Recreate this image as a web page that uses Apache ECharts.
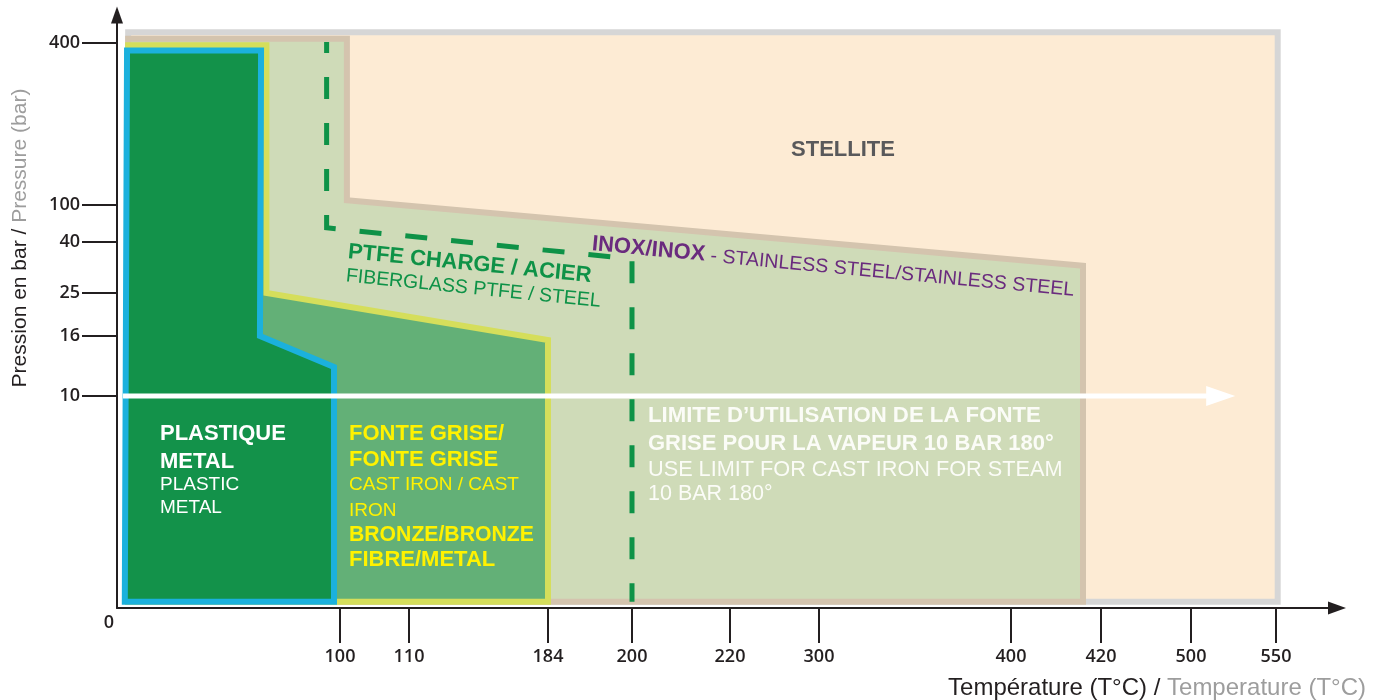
<!DOCTYPE html>
<html>
<head>
<meta charset="utf-8">
<script src="https://cdn.jsdelivr.net/npm/echarts@6/dist/echarts.min.js"></script>
<style>
  html, body { margin: 0; padding: 0; background: #ffffff; }
  #chart { width: 1383px; height: 700px; }
</style>
</head>
<body>
<div id="chart"></div>
<script>
// Tick values: temperature (°C) and pressure (bar)
const tempTicks = [0, 100, 110, 184, 200, 220, 300, 400, 420, 500, 550];
const pressTicks = [0, 10, 16, 25, 40, 100, 400];

// The axes are not linear: where each tick sits along its axis, in axis units
const tempTickStops = [0, 223, 292, 431, 515, 613, 702, 894, 984, 1074, 1159];
const pressTickStops = [0, 212, 272, 315, 366, 403, 565];
const tempAxisEnd = 1220;
const pressAxisEnd = 593;

// Material envelopes, vertices as [temperature °C, pressure bar]
const stelliteZone = [[5, 0.3], [5, 420], [551, 420], [551, 0.3]];
const inoxZone = [[5, 0.3], [5, 408], [101, 408], [101, 109], [416, 33], [416, 0.3]];
const fonteZone = [[5, 0.3], [5, 396], [67, 396], [67, 25], [184, 15.6], [184, 0.3]];
const plasticZone = [[3.5, 0.3], [4.5, 386], [64.6, 386], [64.1, 16], [97.3, 12.9], [97.3, 0.3]];

// PTFE fiberglass / steel limit (dashed) and cast-iron steam limit (arrow)
const ptfeLimit = [[94, 402], [94, 63], [200, 35], [200, 0.3]];
const steamLimit = [[2.7, 10], [526, 10]];

// Piecewise-linear mapping from a value to its position along the axis
function warp(v, ticks, stops) {
  let i = 1;
  while (i < ticks.length - 1 && v > ticks[i]) i++;
  const t0 = ticks[i - 1], t1 = ticks[i], s0 = stops[i - 1], s1 = stops[i];
  return s0 + (v - t0) * (s1 - s0) / (t1 - t0);
}
const tx = t => warp(t, tempTicks, tempTickStops);
const py = p => warp(p, pressTicks, pressTickStops);
const toAxis = pts => pts.map(([t, p]) => [tx(t), py(p)]);

const SANS = '"Liberation Sans", Arial, Helvetica, sans-serif';
const TICKFONT = '"Open Sans", "Noto Sans", sans-serif';
const INK = '#231f20';

function collectPoints(params, api) {
  const pts = [];
  for (let i = 0; i < params.dataInsideLength; i++) {
    pts.push(api.coord([api.value(0, i), api.value(1, i)]));
  }
  return pts;
}

function zoneSeries(name, pts, fill, stroke) {
  return {
    name, type: 'custom', coordinateSystem: 'cartesian2d', silent: true,
    data: toAxis(pts),
    renderItem(params, api) {
      if (params.dataIndexInside !== 0) return null;
      return {
        type: 'polygon',
        shape: { points: collectPoints(params, api) },
        style: { fill, stroke, lineWidth: 6, lineJoin: 'miter' }
      };
    }
  };
}

const ptfeSeries = {
  name: 'PTFE', type: 'custom', coordinateSystem: 'cartesian2d', silent: true,
  data: toAxis(ptfeLimit),
  renderItem(params, api) {
    if (params.dataIndexInside !== 0) return null;
    return {
      type: 'polyline',
      shape: { points: collectPoints(params, api) },
      style: { fill: null, stroke: '#0e9247', lineWidth: 5, lineDash: [22, 24], lineDashOffset: 11, lineCap: 'butt' }
    };
  }
};

const steamSeries = {
  name: 'steam', type: 'custom', coordinateSystem: 'cartesian2d', silent: true,
  data: toAxis(steamLimit),
  renderItem(params, api) {
    if (params.dataIndexInside !== 0) return null;
    const [a, b] = collectPoints(params, api);
    const head = 29, half = 10;
    return {
      type: 'group',
      children: [
        { type: 'line', shape: { x1: a[0], y1: a[1], x2: b[0] - head + 2, y2: b[1] },
          style: { stroke: '#ffffff', lineWidth: 5 } },
        { type: 'polygon', shape: { points: [[b[0], b[1]], [b[0] - head, b[1] - half], [b[0] - head, b[1] + half]] },
          style: { fill: '#ffffff' } }
      ]
    };
  }
};

function text(x, y, str, size, weight, fill, extra) {
  return Object.assign({
    type: 'text', x, y, z: 100, silent: true,
    style: {
      text: str, fontSize: size, fontWeight: weight, fontFamily: SANS, fill,
      align: 'left', verticalAlign: 'middle', textAlign: 'left', textVerticalAlign: 'middle'
    }
  }, extra || {});
}

const graphics = [
  text(843, 150, 'STELLITE', 22, 'bold', '#59595b',
    { style: { text: 'STELLITE', fontSize: 22, fontWeight: 'bold', fontFamily: SANS, fill: '#59595b',
      align: 'center', verticalAlign: 'middle', textAlign: 'center', textVerticalAlign: 'middle' } }),
  {
    type: 'text', x: 592, y: 244, rotation: -0.094, z: 100, silent: true,
    style: {
      text: '{b|INOX/INOX}{r| - STAINLESS STEEL/STAINLESS STEEL}',
      fontFamily: SANS, fontSize: 19.6, fill: '#6a2b7e', align: 'left', verticalAlign: 'middle',
      rich: {
        b: { fontFamily: SANS, fontSize: 22, fontWeight: 'bold', fill: '#6a2b7e', verticalAlign: 'bottom' },
        r: { fontFamily: SANS, fontSize: 19.6, fill: '#6a2b7e', verticalAlign: 'bottom' }
      }
    }
  },
  text(348, 252, 'PTFE CHARGE / ACIER', 22, 'bold', '#0e9247', { rotation: -0.098 }),
  text(346, 276, 'FIBERGLASS PTFE / STEEL', 19.5, 'normal', '#0e9247', { rotation: -0.1 }),

  text(160, 434, 'PLASTIQUE', 22, 'bold', '#ffffff'),
  text(160, 462, 'METAL', 22, 'bold', '#ffffff'),
  text(160, 485, 'PLASTIC', 19, 'normal', '#ffffff'),
  text(160, 508, 'METAL', 19, 'normal', '#ffffff'),

  text(349, 434, 'FONTE GRISE/', 22, 'bold', '#fff200'),
  text(349, 460, 'FONTE GRISE', 22, 'bold', '#fff200'),
  text(349, 485, 'CAST IRON / CAST', 19, 'normal', '#fff200'),
  text(349, 511, 'IRON', 19, 'normal', '#fff200'),
  text(349, 535, 'BRONZE/BRONZE', 21.2, 'bold', '#fff200'),
  text(349, 560, 'FIBRE/METAL', 22, 'bold', '#fff200'),

  text(648, 416, 'LIMITE D\u2019UTILISATION DE LA FONTE', 22.2, 'bold', '#fbfcf7'),
  text(648, 444, 'GRISE POUR LA VAPEUR 10 BAR 180°', 22, 'bold', '#fbfcf7'),
  text(648, 470, 'USE LIMIT FOR CAST IRON FOR STEAM', 21.7, 'normal', '#fbfcf7'),
  text(648, 494, '10 BAR 180°', 21.5, 'normal', '#fbfcf7'),

  // origin label
  {
    type: 'text', x: 109, y: 623, z: 100, silent: true,
    style: { text: '0', fontFamily: TICKFONT, fontSize: 18, fontWeight: 600, fill: INK,
      align: 'center', verticalAlign: 'middle', textAlign: 'center', textVerticalAlign: 'middle' }
  },
  // axis titles
  {
    type: 'text', x: 20, y: 238, rotation: Math.PI / 2, z: 100, silent: true,
    style: {
      text: '{a|Pression en bar / }{b|Pressure (bar)}', fontFamily: SANS, fontSize: 21,
      align: 'center', verticalAlign: 'middle', textAlign: 'center', textVerticalAlign: 'middle',
      rich: {
        a: { fontFamily: SANS, fontSize: 21, fill: INK },
        b: { fontFamily: SANS, fontSize: 21, fill: '#9d9d9d' }
      }
    }
  },
  {
    type: 'text', x: 1366, y: 688, z: 100, silent: true,
    style: {
      text: '{a|Température (T°C) / }{b|Temperature (T°C)}', fontFamily: SANS, fontSize: 24,
      align: 'right', verticalAlign: 'middle', textAlign: 'right', textVerticalAlign: 'middle',
      rich: {
        a: { fontFamily: SANS, fontSize: 24, fill: INK },
        b: { fontFamily: SANS, fontSize: 24, fill: '#9d9d9d' }
      }
    }
  }
];

const tickLabel = { fontFamily: TICKFONT, fontSize: 18, fontWeight: 600, color: INK };

const chart = echarts.init(document.getElementById('chart'), null, { renderer: 'canvas' });
chart.setOption({
  animation: false,
  backgroundColor: '#ffffff',
  grid: { left: 117, right: 46, top: 15, bottom: 92, containLabel: false },
  xAxis: {
    type: 'value', min: 0, max: tempAxisEnd,
    splitLine: { show: false },
    axisLine: { show: true, onZero: false, symbol: ['none', 'triangle'], symbolSize: [13, 18],
      lineStyle: { color: INK, width: 2 } },
    axisTick: { show: true, length: 35, customValues: tempTickStops.slice(1),
      lineStyle: { color: INK, width: 2 } },
    axisLabel: Object.assign({
      show: true, margin: 40, customValues: tempTickStops.slice(1),
      formatter: v => String(tempTicks[tempTickStops.indexOf(v)])
    }, tickLabel)
  },
  yAxis: {
    type: 'value', min: 0, max: pressAxisEnd,
    splitLine: { show: false },
    axisLine: { show: true, onZero: false, symbol: ['none', 'triangle'], symbolSize: [12, 17],
      lineStyle: { color: INK, width: 2 } },
    axisTick: { show: true, length: 35, customValues: pressTickStops.slice(1),
      lineStyle: { color: INK, width: 2 } },
    axisLabel: Object.assign({
      show: true, margin: 37, customValues: pressTickStops.slice(1),
      formatter: v => String(pressTicks[pressTickStops.indexOf(v)])
    }, tickLabel)
  },
  series: [
    zoneSeries('STELLITE', stelliteZone, '#fdebd4', '#d6d6d6'),
    zoneSeries('INOX/INOX', inoxZone, '#cfdbb8', '#d4c4ae'),
    zoneSeries('FONTE GRISE', fonteZone, '#63b077', '#d5de5b'),
    zoneSeries('PLASTIQUE METAL', plasticZone, '#13924a', '#1bb1dd'),
    ptfeSeries,
    steamSeries
  ],
  graphic: graphics
});
</script>
</body>
</html>
